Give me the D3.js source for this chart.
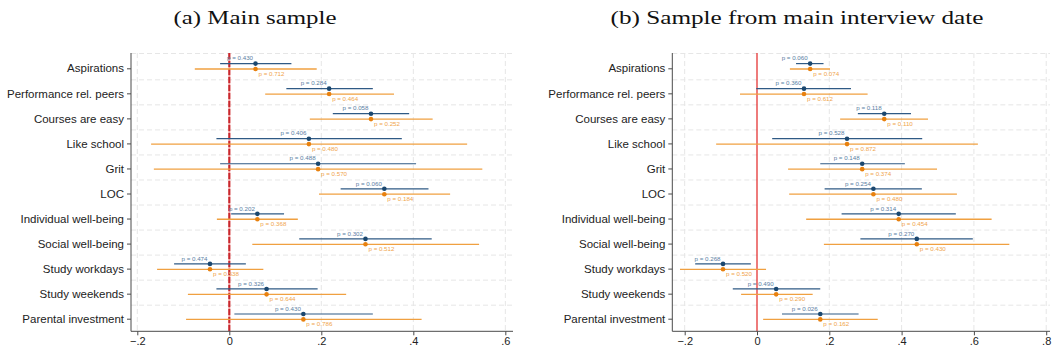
<!DOCTYPE html>
<html>
<head>
<meta charset="utf-8">
<script src="https://cdn.jsdelivr.net/npm/d3@7"></script>
<style>
  html, body { margin: 0; padding: 0; background: #fff; }
  svg { display: block; }
</style>
</head>
<body>
<svg id="chart" width="1053" height="354"></svg>
<script>
const outcomes = ["Aspirations", "Performance rel. peers", "Courses are easy", "Like school", "Grit", "LOC",
  "Individual well-being", "Social well-being", "Study workdays", "Study weekends", "Parental investment"];
const xTicks = [-0.2, 0, 0.2, 0.4, 0.6];
const xTicksB = [-0.2, 0, 0.2, 0.4, 0.6, 0.8];

// (a) main sample
const coefA = [0.057, 0.217, 0.308, 0.173, 0.193, 0.337, 0.061, 0.296, -0.042, 0.081, 0.161];
const blueLoA = [-0.020, 0.124, 0.225, -0.028, -0.020, 0.242, 0.004, 0.152, -0.120, -0.028, 0.011];
const blueHiA = [0.135, 0.312, 0.391, 0.375, 0.406, 0.433, 0.119, 0.440, 0.036, 0.192, 0.312];
const orangeLoA = [-0.075, 0.078, 0.175, -0.170, -0.164, 0.195, -0.027, 0.050, -0.157, -0.090, -0.094];
const orangeHiA = [0.190, 0.358, 0.442, 0.517, 0.550, 0.480, 0.149, 0.543, 0.074, 0.254, 0.418];
const bluePA = ["0.430", "0.284", "0.058", "0.406", "0.488", "0.060", "0.202", "0.302", "0.474", "0.326", "0.430"];
const orangePA = ["0.712", "0.464", "0.252", "0.480", "0.570", "0.184", "0.368", "0.512", "0.538", "0.644", "0.786"];

// (b) main interview date
const coefB = [0.147, 0.130, 0.352, 0.249, 0.291, 0.322, 0.392, 0.442, -0.094, 0.053, 0.175];
const blueLoB = [0.108, -0.002, 0.279, 0.042, 0.175, 0.187, 0.234, 0.286, -0.171, -0.067, 0.069];
const blueHiB = [0.184, 0.260, 0.426, 0.457, 0.409, 0.456, 0.550, 0.597, -0.017, 0.175, 0.281];
const orangeLoB = [0.091, -0.047, 0.230, -0.113, 0.086, 0.089, 0.136, 0.185, -0.213, -0.044, 0.017];
const orangeHiB = [0.202, 0.306, 0.473, 0.611, 0.498, 0.553, 0.649, 0.698, 0.025, 0.154, 0.334];
const bluePB = ["0.060", "0.360", "0.118", "0.528", "0.148", "0.254", "0.314", "0.270", "0.268", "0.490", "0.026"];
const orangePB = ["0.074", "0.612", "0.110", "0.872", "0.374", "0.480", "0.454", "0.430", "0.520", "0.290", "0.162"];

const BLUE = "#1a476f", BLUE_LINE = "#2f5a85", BLUE_TXT = "#5a7ea3";
const ORANGE = "#e8810f", ORANGE_LINE = "#f0a040", ORANGE_TXT = "#f0a54c";
const TOP = 53, BOTTOM = 331.3;

const svg = d3.select("#chart");
const tickFmt = d => d === 0 ? "0" : d3.format(".1f")(d).replace("0.", ".");

function drawPanel(p) {
  const x = d3.scaleLinear().domain(p.domain).range(p.range);
  const y = d3.scalePoint().domain(outcomes).range([68.3, 318.7]);
  const g = svg.append("g");
  const [x0, x1] = p.range;

  g.append("text")
    .attr("x", p.titleX).attr("y", 24)
    .attr("text-anchor", "middle")
    .attr("textLength", p.titleW).attr("lengthAdjust", "spacingAndGlyphs")
    .style("font", "19.5px 'Liberation Serif', 'DejaVu Serif', serif")
    .attr("fill", "#111")
    .text(p.title);

  // grid
  const step = y.step();
  const gy = [TOP + 0.5].concat(outcomes.slice(0, -1).map(o => y(o) + step * 0.46));
  g.append("g").selectAll("line").data(gy).join("line")
    .attr("x1", x0).attr("x2", x1)
    .attr("y1", d => d).attr("y2", d => d)
    .attr("stroke", "#e6e6e6").attr("stroke-width", 1).attr("stroke-dasharray", "5,3");
  g.append("g").selectAll("line").data(p.ticks.filter(t => t !== 0)).join("line")
    .attr("x1", d => x(d)).attr("x2", d => x(d))
    .attr("y1", TOP).attr("y2", BOTTOM)
    .attr("stroke", "#e6e6e6").attr("stroke-width", 1).attr("stroke-dasharray", "5,3");

  // zero line
  if (p.dashedZero) {
    g.append("line").attr("x1", x(0)).attr("x2", x(0)).attr("y1", TOP).attr("y2", BOTTOM)
      .attr("stroke", "#f29a9a").attr("stroke-width", 2);
    g.append("line").attr("x1", x(0)).attr("x2", x(0)).attr("y1", TOP).attr("y2", BOTTOM)
      .attr("stroke", "#c8272d").attr("stroke-width", 2).attr("stroke-dasharray", "6,2");
  } else {
    g.append("line").attr("x1", x(0)).attr("x2", x(0)).attr("y1", TOP).attr("y2", BOTTOM)
      .attr("stroke", "#e01010").attr("stroke-width", 1.1);
  }

  const rows = outcomes.map((o, i) => ({
    o, b: p.coef[i], bl: p.blueLo[i], bh: p.blueHi[i], ol: p.orangeLo[i], oh: p.orangeHi[i],
    bp: p.blueP[i], op: p.orangeP[i]
  }));
  const BOFF = -4.7, OOFF = 0.7;

  g.append("g").selectAll("line").data(rows).join("line")
    .attr("x1", d => x(d.ol)).attr("x2", d => x(d.oh))
    .attr("y1", d => y(d.o) + OOFF).attr("y2", d => y(d.o) + OOFF)
    .attr("stroke", ORANGE_LINE).attr("stroke-width", 1.3);
  g.append("g").selectAll("line").data(rows).join("line")
    .attr("x1", d => x(d.bl)).attr("x2", d => x(d.bh))
    .attr("y1", d => y(d.o) + BOFF).attr("y2", d => y(d.o) + BOFF)
    .attr("stroke", BLUE_LINE).attr("stroke-width", 1.2);
  g.append("g").selectAll("circle").data(rows).join("circle")
    .attr("cx", d => x(d.b)).attr("cy", d => y(d.o) + OOFF).attr("r", 2.3)
    .attr("fill", ORANGE);
  g.append("g").selectAll("circle").data(rows).join("circle")
    .attr("cx", d => x(d.b)).attr("cy", d => y(d.o) + BOFF).attr("r", 2.3)
    .attr("fill", BLUE);

  const pFont = "6.2px 'Liberation Sans', Arial, sans-serif";
  g.append("g").selectAll("text").data(rows).join("text")
    .attr("x", d => x(d.b) - 2.5).attr("y", d => y(d.o) + BOFF - 3.3)
    .attr("text-anchor", "end").style("font", pFont).attr("fill", BLUE_TXT)
    .text(d => `p = ${d.bp}`);
  g.append("g").selectAll("text").data(rows).join("text")
    .attr("x", d => x(d.b) + 3).attr("y", d => y(d.o) + OOFF + 7)
    .attr("text-anchor", "start").style("font", pFont).attr("fill", ORANGE_TXT)
    .text(d => `p = ${d.op}`);

  // axes
  const ya = g.append("g").attr("transform", `translate(${x0},0)`)
    .call(d3.axisLeft(y).tickSize(4).tickPadding(3));
  ya.select(".domain").attr("d", `M0,${TOP}V${BOTTOM}`).attr("stroke", "#4a4a4a");
  ya.selectAll(".tick line").attr("stroke", "#4a4a4a");
  ya.selectAll("text").style("font", "11.5px 'Liberation Sans', Arial, sans-serif").attr("fill", "#222");

  const xa = g.append("g").attr("transform", `translate(0,${BOTTOM})`)
    .call(d3.axisBottom(x).tickValues(p.ticks).tickFormat(tickFmt).tickSize(4).tickPadding(2));
  xa.select(".domain").attr("d", `M${x0},0H${x1}`).attr("stroke", "#4a4a4a");
  xa.selectAll(".tick line").attr("stroke", "#4a4a4a");
  xa.selectAll("text").style("font", "11px 'Liberation Sans', Arial, sans-serif").attr("fill", "#222");
}

drawPanel({
  title: "(a) Main sample", titleX: 255, titleW: 163,
  domain: [-0.2137, 0.6167], range: [131, 513], ticks: xTicks, dashedZero: true,
  coef: coefA, blueLo: blueLoA, blueHi: blueHiA, orangeLo: orangeLoA, orangeHi: orangeHiA,
  blueP: bluePA, orangeP: orangePA
});
drawPanel({
  title: "(b) Sample from main interview date", titleX: 797, titleW: 373,
  domain: [-0.2343, 0.8105], range: [672.3, 1050], ticks: xTicksB, dashedZero: false,
  coef: coefB, blueLo: blueLoB, blueHi: blueHiB, orangeLo: orangeLoB, orangeHi: orangeHiB,
  blueP: bluePB, orangeP: orangePB
});
</script>
</body>
</html>
